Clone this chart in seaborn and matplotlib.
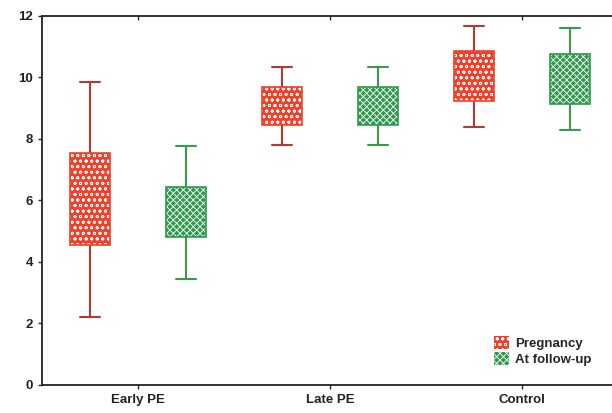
import copy
import pandas as pd
import seaborn as sns
import matplotlib.pyplot as plt
import matplotlib.patches as mpatches

groups = ["Early PE", "Late PE", "Control"]
times = ["Pregnancy", "At follow-up"]

# min, q1, mid, q3, max for each box
pregnancy = {
    "Early PE": [2.21, 4.55, 6.0, 7.54, 9.85],
    "Late PE": [7.80, 8.46, 9.1, 9.69, 10.34],
    "Control": [8.39, 9.24, 10.0, 10.86, 11.67],
}
follow_up = {
    "Early PE": [3.45, 4.81, 5.6, 6.44, 7.77],
    "Late PE": [7.80, 8.46, 9.1, 9.69, 10.34],
    "Control": [8.29, 9.14, 9.9, 10.76, 11.61],
}

face_colors = {"Pregnancy": "#f0402a", "At follow-up": "#2f9a4c"}
line_colors = {"Pregnancy": "#b23a30", "At follow-up": "#3a9a4a"}
hatches = {"Pregnancy": "ooo", "At follow-up": "xxxxx"}

rows = []
for t, d in zip(times, [pregnancy, follow_up]):
    for g in groups:
        for v in d[g]:
            rows.append([g, t, v])
df = pd.DataFrame(rows, columns=["group", "time", "value"])

sns.set_style("ticks")
plt.rcParams["font.family"] = ["Liberation Sans", "DejaVu Sans"]
plt.rcParams["hatch.linewidth"] = 0.6

fig = plt.figure(figsize=(6.12, 4.13), dpi=100)
ax = fig.add_axes([0.0686, 0.0678, 0.9314, 0.8935])

for t in times:
    n_before = len(ax.patches)
    sns.boxplot(data=df[df["time"] == t], x="group", y="value", hue="time",
                hue_order=times, order=groups, palette=face_colors,
                whis=(0, 100), width=1.0, gap=0.58, dodge=True,
                showfliers=False, linecolor=line_colors[t], linewidth=1.5,
                medianprops={"visible": False}, legend=False, ax=ax)
    for p in ax.patches[n_before:]:
        p.set_facecolor(face_colors[t])
        p.set_edgecolor("white")
        p.set_hatch(hatches[t])
        p.set_linewidth(0)
        outline = copy.copy(p)
        outline.set_hatch(None)
        outline.set_facecolor("none")
        outline.set_edgecolor(face_colors[t])
        outline.set_linewidth(1.2)
        ax.add_patch(outline)

ax.set_xlim(-0.5, 2.47)
ax.set_ylim(0, 12)
ax.set_yticks(range(0, 13, 2))
ax.set_xlabel("")
ax.set_ylabel("")
ax.spines["right"].set_visible(False)
for s in ["left", "bottom", "top"]:
    ax.spines[s].set_linewidth(1.3)
    ax.spines[s].set_color("#222222")
ax.tick_params(axis="both", direction="out", length=3, width=1, labelsize=9.5)
ax.tick_params(axis="x", which="major", top=True, labeltop=False)
for tk in ax.xaxis.get_major_ticks():
    tk.tick2line.set_marker(3)
    tk.tick2line.set_markersize(3)
for lbl in ax.get_xticklabels() + ax.get_yticklabels():
    lbl.set_fontweight("bold")
    lbl.set_color("#222222")

handles = [mpatches.Patch(facecolor=face_colors[t], edgecolor="white",
                          hatch=hatches[t], linewidth=0, label=t) for t in times]
leg = ax.legend(handles=handles, loc="lower right", bbox_to_anchor=(0.985, 0.02),
                frameon=False, handlelength=1.1, handleheight=1.1,
                handletextpad=0.5, labelspacing=0.15,
                prop={"weight": "bold", "size": 9.5})

fig.savefig("out.png", dpi=100)
